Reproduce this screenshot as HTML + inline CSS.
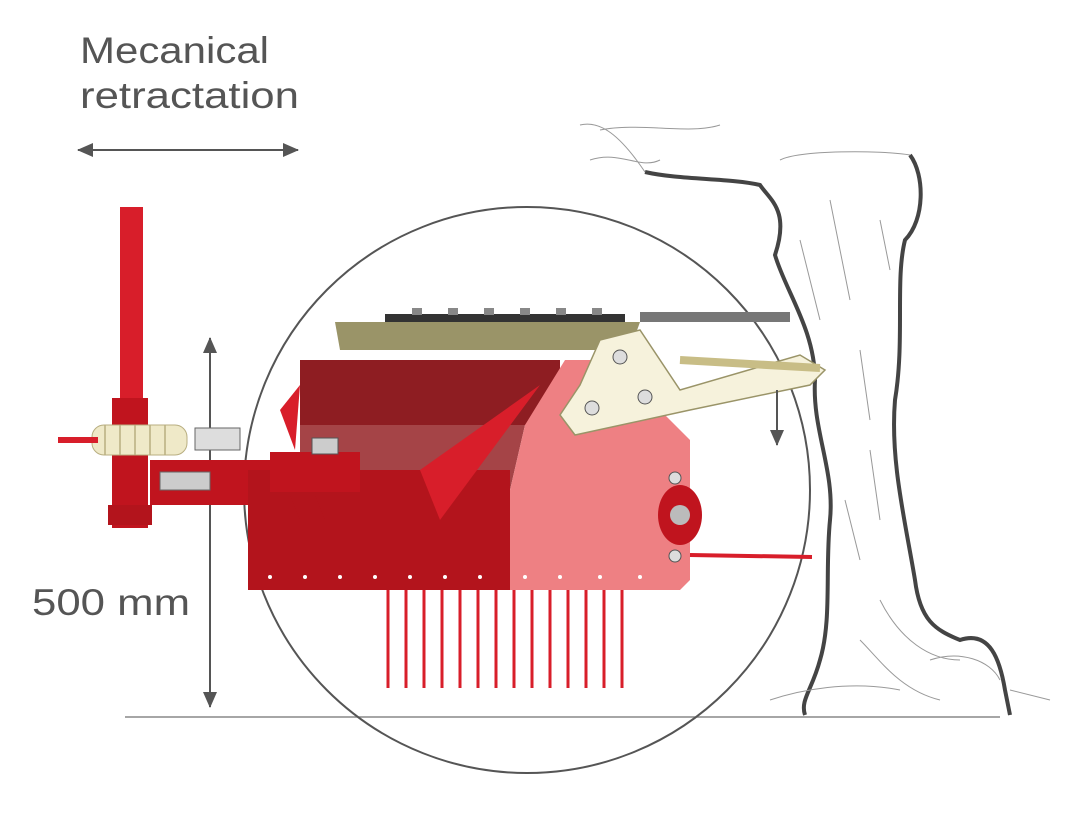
<!DOCTYPE html>
<html><head><meta charset="utf-8"><style>
html,body{margin:0;padding:0;background:#fff;width:1081px;height:820px;overflow:hidden}
.t{font-family:"Liberation Sans",sans-serif;fill:#555;font-size:37px}
</style></head><body>
<svg width="1081" height="820" viewBox="0 0 1081 820" xmlns="http://www.w3.org/2000/svg">
<defs>
<marker id="a" markerWidth="16" markerHeight="16" refX="15" refY="8" orient="auto" markerUnits="userSpaceOnUse"><path d="M0,1 L16,8 L0,15 z" fill="#555"/></marker>
</defs>
<text class="t" x="80" y="63" textLength="189" lengthAdjust="spacingAndGlyphs">Mecanical</text>
<text class="t" x="80" y="108" textLength="219" lengthAdjust="spacingAndGlyphs">retractation</text>
<line x1="95" y1="150" x2="298" y2="150" stroke="#555" stroke-width="2" marker-end="url(#a)"/>
<line x1="285" y1="150" x2="78" y2="150" stroke="#555" stroke-width="2" marker-end="url(#a)"/>
<text class="t" x="32" y="615" textLength="158" lengthAdjust="spacingAndGlyphs">500 mm</text>
<line x1="210" y1="355" x2="210" y2="707" stroke="#555" stroke-width="2" marker-end="url(#a)"/>
<line x1="210" y1="690" x2="210" y2="338" stroke="#555" stroke-width="2" marker-end="url(#a)"/>
<line x1="125" y1="717" x2="1000" y2="717" stroke="#888" stroke-width="1.5"/>
<circle cx="527" cy="490" r="283" fill="none" stroke="#555" stroke-width="2"/>
<!-- tree -->
<path d="M645,172 C680,180 730,178 760,185 C770,200 790,210 775,255 C785,290 815,330 815,380 C812,430 835,470 830,520 C825,570 832,620 820,660 C812,690 800,700 805,715" fill="none" stroke="#444" stroke-width="4"/>
<path d="M910,155 C925,175 925,220 905,240 C895,280 905,340 895,400 C890,460 905,520 915,580 C920,620 935,630 960,640 C990,630 1000,660 1005,690 L1010,715" fill="none" stroke="#444" stroke-width="4"/>
<path d="M580,125 C600,120 620,135 645,172 M600,130 C640,122 690,135 720,125 M590,160 C620,150 640,170 660,160 M780,160 C800,150 880,150 910,155 M830,200 L850,300 M800,240 L820,320 M860,350 L870,420 M880,220 L890,270 M845,500 L860,560 M870,450 L880,520 M880,600 C900,640 930,660 960,660 M770,700 C800,690 850,680 900,690 M860,640 C880,660 900,690 940,700 M930,660 C960,650 990,660 1000,680 M1010,690 L1050,700" fill="none" stroke="#999" stroke-width="1"/>
<!-- pole -->
<rect x="120" y="207" width="23" height="195" fill="#d81e2a"/>
<rect x="112" y="398" width="36" height="130" fill="#c0141e"/>
<rect x="108" y="505" width="44" height="20" fill="#b3141c"/>
<rect x="92" y="425" width="95" height="30" rx="12" fill="#efe9c8" stroke="#b8ae80"/>
<g stroke="#b8ae80" stroke-width="1.5"><line x1="105" y1="425" x2="105" y2="455"/><line x1="120" y1="425" x2="120" y2="455"/><line x1="135" y1="425" x2="135" y2="455"/><line x1="150" y1="425" x2="150" y2="455"/><line x1="165" y1="425" x2="165" y2="455"/></g>
<rect x="58" y="437" width="40" height="6" fill="#d81e2a"/>
<rect x="150" y="460" width="120" height="45" fill="#c0141e"/>
<rect x="160" y="472" width="50" height="18" fill="#ccc" stroke="#666"/>
<rect x="195" y="428" width="45" height="22" fill="#ddd" stroke="#666"/>
<!-- machine -->
<path d="M335,322 L640,322 L630,350 L340,350 z" fill="#9a9468"/>
<rect x="385" y="314" width="240" height="8" fill="#333"/>
<g fill="#888"><rect x="412" y="308" width="10" height="7"/><rect x="448" y="308" width="10" height="7"/><rect x="484" y="308" width="10" height="7"/><rect x="520" y="308" width="10" height="7"/><rect x="556" y="308" width="10" height="7"/><rect x="592" y="308" width="10" height="7"/></g>
<path d="M300,360 L560,360 L560,420 L525,425 L300,425 z" fill="#8e1d22"/>
<path d="M300,425 L525,425 L510,490 L300,490 z" fill="#a54447"/>
<rect x="248" y="470" width="262" height="120" fill="#b3141c"/>
<path d="M525,425 L565,360 L660,360 L660,410 L690,440 L690,580 L680,590 L510,590 L510,490 z" fill="#ee8083"/>
<path d="M540,385 L420,470 L440,520 z" fill="#d81e2a"/>
<path d="M280,410 L300,385 L295,450 z" fill="#d81e2a"/>
<rect x="270" y="452" width="90" height="40" fill="#c0141e"/>
<rect x="312" y="438" width="26" height="16" fill="#ccc" stroke="#555"/>
<g fill="#b3141c"><path d="M290,495 L300,520 L300,495z"/><path d="M340,495 L355,530 L355,495z"/><path d="M315,495 L325,520 L325,495z"/></g>
<ellipse cx="680" cy="515" rx="22" ry="30" fill="#c0141e"/>
<circle cx="680" cy="515" r="10" fill="#bbb"/>
<circle cx="675" cy="478" r="6" fill="#ddd" stroke="#555"/><circle cx="675" cy="556" r="6" fill="#ddd" stroke="#555"/>
<line x1="690" y1="555" x2="812" y2="557" stroke="#d81e2a" stroke-width="4"/>
<g fill="#fff"><circle cx="270" cy="577" r="2"/><circle cx="305" cy="577" r="2"/><circle cx="340" cy="577" r="2"/><circle cx="375" cy="577" r="2"/><circle cx="410" cy="577" r="2"/><circle cx="445" cy="577" r="2"/><circle cx="480" cy="577" r="2"/><circle cx="525" cy="577" r="2"/><circle cx="560" cy="577" r="2"/><circle cx="600" cy="577" r="2"/><circle cx="640" cy="577" r="2"/></g>
<!-- cream arm -->
<rect x="640" y="312" width="150" height="10" fill="#777"/>
<path d="M600,340 L640,330 L680,390 L800,355 L825,370 L810,385 L690,410 L575,435 L560,415 L580,385 z" fill="#f6f2dc" stroke="#9a9468" stroke-width="1.5"/>
<line x1="680" y1="360" x2="820" y2="368" stroke="#c8bd86" stroke-width="8"/>
<g fill="#ddd" stroke="#555"><circle cx="620" cy="357" r="7"/><circle cx="592" cy="408" r="7"/><circle cx="645" cy="397" r="7"/></g>
<line x1="777" y1="390" x2="777" y2="445" stroke="#555" stroke-width="2" marker-end="url(#a)"/>
<!-- tines -->
<g stroke="#d81e2a" stroke-width="3">
<line x1="388" y1="590" x2="388" y2="688"/><line x1="406" y1="590" x2="406" y2="688"/>
<line x1="424" y1="590" x2="424" y2="688"/><line x1="442" y1="590" x2="442" y2="688"/>
<line x1="460" y1="590" x2="460" y2="688"/><line x1="478" y1="590" x2="478" y2="688"/>
<line x1="496" y1="590" x2="496" y2="688"/><line x1="514" y1="590" x2="514" y2="688"/>
<line x1="532" y1="590" x2="532" y2="688"/><line x1="550" y1="590" x2="550" y2="688"/>
<line x1="568" y1="590" x2="568" y2="688"/><line x1="586" y1="590" x2="586" y2="688"/>
<line x1="604" y1="590" x2="604" y2="688"/><line x1="622" y1="590" x2="622" y2="688"/>
</g>
</svg>
</body></html>
